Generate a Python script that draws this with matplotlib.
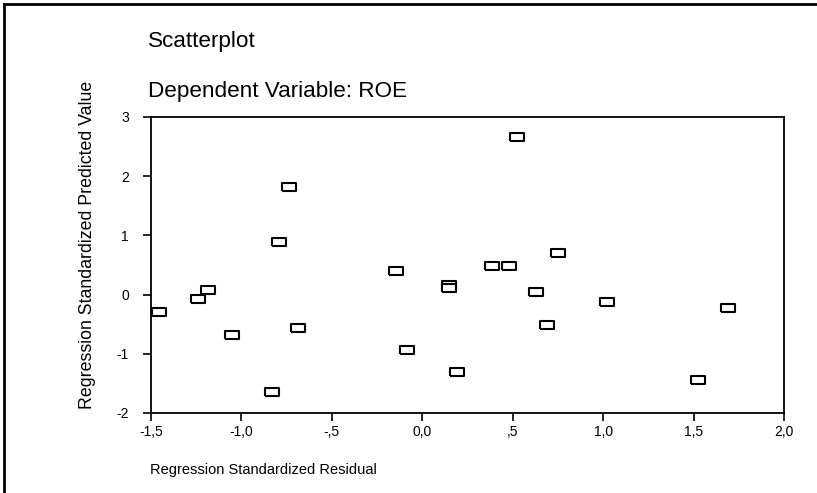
import numpy as np
import matplotlib
matplotlib.use('Agg')
from matplotlib import pyplot as plt
from matplotlib.lines import Line2D

plt.rcParams['font.family'] = ['Liberation Sans', 'DejaVu Sans']

# standardized residual vs standardized predicted value
resid = [-1.454, -1.238, -1.183, -1.050, -0.735, -0.790, -0.685, -0.829,
         -0.144, -0.083, 0.149, 0.149, 0.193, 0.387, 0.481, 0.525,
         0.630, 0.690, 0.752, 1.023, 1.526, 1.690]
pred = [-0.29, -0.08, 0.08, -0.68, 1.81, 0.88, -0.57, -1.64,
        0.40, -0.93, 0.16, 0.11, -1.31, 0.49, 0.49, 2.67,
        0.05, -0.52, 0.71, -0.12, -1.44, -0.23]

xticks = [-1.5, -1.0, -0.5, 0.0, 0.5, 1.0, 1.5, 2.0]
xticklabels = ['-1,5', '-1,0', '-,5', '0,0', ',5', '1,0', '1,5', '2,0']
yticks = [-2, -1, 0, 1, 2, 3]
yticklabels = ['-2', '-1', '0', '1', '2', '3']

fig = plt.figure(figsize=(8.17, 4.93), dpi=100)
ax = fig.add_axes([0.1848, 0.1623, 0.7748, 0.6004])

box = [(-1, -0.6), (1, -0.6), (1, 0.6), (-1, 0.6), (-1, -0.6)]
ax.plot(resid, pred, linestyle='none', marker=box, markersize=9.5,
        markerfacecolor='white', markeredgecolor='black', markeredgewidth=1.5)

ax.set_xlim(-1.5, 2.0)
ax.set_ylim(-2, 3)
ax.set_xticks(xticks)
ax.set_xticklabels(xticklabels)
ax.set_yticks(yticks)
ax.set_yticklabels(yticklabels)
ax.tick_params(direction='out', length=6, width=1.2, labelsize=10, pad=3)
ax.tick_params(axis='y', pad=10)
for s in ax.spines.values():
    s.set_linewidth(1.3)

fig.text(148/817, 1 - 47/493, 'Scatterplot', fontsize=16.2, ha='left', va='baseline')
fig.text(148/817, 1 - 97/493, 'Dependent Variable: ROE', fontsize=16.2, ha='left', va='baseline')
fig.text(150/817, 1 - 474/493, 'Regression Standardized Residual', fontsize=10.5,
         ha='left', va='baseline')
fig.text(88/817, 1 - 245/493, 'Regression Standardized Predicted Value', fontsize=12.8,
         rotation=90, ha='center', va='center')

# outer frame (top and left edges visible)
fig.add_artist(Line2D([4/817, 4/817], [0, 1 - 4/493], color='black', linewidth=2,
                      transform=fig.transFigure))
fig.add_artist(Line2D([4/817, 1], [1 - 4/493, 1 - 4/493], color='black', linewidth=2,
                      transform=fig.transFigure))

plt.savefig('out.png', dpi=100)
